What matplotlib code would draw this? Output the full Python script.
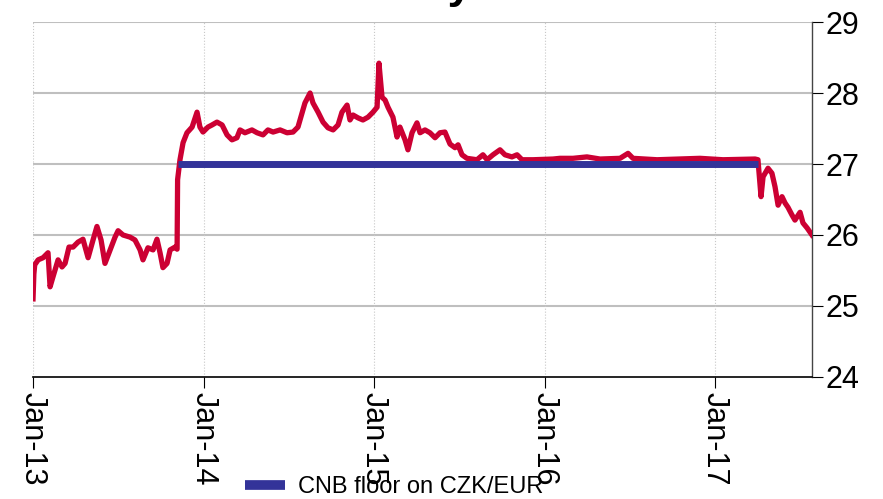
import matplotlib
matplotlib.use("Agg")
import matplotlib.pyplot as plt
from matplotlib.lines import Line2D

plt.rcParams['font.family'] = ['Liberation Sans', 'DejaVu Sans']

# CZK per EUR, decimal years
czk_t = [2013.000, 2013.005, 2013.010, 2013.030, 2013.059, 2013.088, 2013.100, 2013.117,
         2013.147, 2013.170, 2013.188, 2013.211, 2013.235, 2013.264, 2013.293, 2013.323,
         2013.352, 2013.375, 2013.399, 2013.422, 2013.452, 2013.481, 2013.499, 2013.528,
         2013.569, 2013.598, 2013.628, 2013.645, 2013.674, 2013.704, 2013.727, 2013.745,
         2013.762, 2013.786, 2013.804, 2013.833, 2013.845, 2013.848, 2013.862, 2013.880,
         2013.903, 2013.933, 2013.962, 2013.979, 2013.997, 2014.026, 2014.050, 2014.079,
         2014.109, 2014.138, 2014.167, 2014.196, 2014.214, 2014.243, 2014.284, 2014.314,
         2014.349, 2014.378, 2014.408, 2014.449, 2014.490, 2014.525, 2014.554, 2014.578,
         2014.595, 2014.625, 2014.642, 2014.672, 2014.701, 2014.730, 2014.760, 2014.789,
         2014.812, 2014.842, 2014.859, 2014.877, 2014.906, 2014.935, 2014.965, 2014.994,
         2015.018, 2015.029, 2015.047, 2015.065, 2015.082, 2015.111, 2015.135, 2015.152,
         2015.182, 2015.199, 2015.223, 2015.252, 2015.270, 2015.299, 2015.328, 2015.358,
         2015.387, 2015.416, 2015.446, 2015.475, 2015.493, 2015.516, 2015.545, 2015.604,
         2015.639, 2015.663, 2015.698, 2015.739, 2015.768, 2015.809, 2015.839, 2015.868,
         2015.933, 2016.050, 2016.091, 2016.167, 2016.249, 2016.326, 2016.443, 2016.490,
         2016.519, 2016.660, 2016.912, 2017.047, 2017.235, 2017.252, 2017.270, 2017.282,
         2017.311, 2017.334, 2017.352, 2017.370, 2017.393, 2017.411, 2017.428, 2017.452,
         2017.469, 2017.499, 2017.516, 2017.540, 2017.557, 2017.569]
czk_v = [25.10, 25.45, 25.58, 25.65, 25.68, 25.75, 25.27, 25.41,
         25.65, 25.55, 25.60, 25.83, 25.83, 25.90, 25.94, 25.68,
         25.93, 26.12, 25.93, 25.60, 25.79, 25.97, 26.06, 26.00,
         25.97, 25.93, 25.79, 25.65, 25.82, 25.79, 25.94, 25.75,
         25.54, 25.60, 25.79, 25.83, 25.80, 26.78, 27.06, 27.30,
         27.44, 27.52, 27.73, 27.52, 27.45, 27.52, 27.55, 27.59,
         27.55, 27.41, 27.34, 27.37, 27.48, 27.44, 27.48, 27.44,
         27.41, 27.48, 27.45, 27.48, 27.44, 27.45, 27.52, 27.72,
         27.86, 28.00, 27.86, 27.73, 27.59, 27.51, 27.48, 27.55,
         27.73, 27.83, 27.62, 27.69, 27.65, 27.62, 27.66, 27.73,
         27.80, 28.42, 27.94, 27.90, 27.80, 27.66, 27.38, 27.52,
         27.34, 27.20, 27.44, 27.58, 27.44, 27.48, 27.44, 27.37,
         27.44, 27.45, 27.28, 27.23, 27.27, 27.13, 27.08, 27.06,
         27.13, 27.06, 27.13, 27.20, 27.13, 27.10, 27.13, 27.06,
         27.06, 27.07, 27.08, 27.08, 27.10, 27.07, 27.08, 27.15,
         27.08, 27.06, 27.08, 27.06, 27.07, 27.06, 26.54, 26.82,
         26.94, 26.87, 26.68, 26.42, 26.54, 26.45, 26.39, 26.28,
         26.21, 26.32, 26.17, 26.10, 26.04, 26.00]

floor_t = [2013.848, 2017.255]
floor_v = [27.0, 27.0]

year_ticks = [2013, 2014, 2015, 2016, 2017]
year_labels = ['Jan-13', 'Jan-14', 'Jan-15', 'Jan-16', 'Jan-17']
y_ticks = [24, 25, 26, 27, 28, 29]

fig = plt.figure(figsize=(8.83, 4.99), dpi=100)
ax = fig.add_axes([0.0374, 0.2445, 0.8822, 0.7114])

ax.plot(czk_t, czk_v, color='#CC0033', lw=3.8, zorder=3, solid_joinstyle='round')
ax.plot(floor_t, floor_v, color='#333399', lw=5, zorder=4, solid_capstyle='butt')

ax.set_xlim(2013.0, 2017.569)
ax.set_ylim(24, 29)

# gridlines
for yv in y_ticks[1:]:
    ax.axhline(yv, color='#BFBFBF', lw=1.5, zorder=1)
for xv in year_ticks:
    ax.axvline(xv, color='#C8C8C8', lw=0.8, ls=':', zorder=1)

ax.set_xticks(year_ticks)
ax.set_xticklabels(year_labels, rotation=270, fontsize=22)
ax.set_yticks(y_ticks)
ax.yaxis.tick_right()
ax.tick_params(axis='y', labelsize=22, direction='out', length=8, pad=2, colors='black')
ax.tick_params(axis='x', direction='out', length=8, pad=3)

for s in ['top', 'left']:
    ax.spines[s].set_visible(False)
ax.spines['bottom'].set_color('black')
ax.spines['bottom'].set_linewidth(1.2)
ax.spines['right'].set_color('#444444')
ax.spines['right'].set_linewidth(1.0)

# title, sits almost entirely above the canvas
fig.text(472 / 883, 1.004, 'Daily', fontsize=32, fontweight='bold', ha='right', va='baseline')

handle = Line2D([0], [0], color='#333399', lw=7, solid_capstyle='butt')
fig.legend([handle], ['CNB floor on CZK/EUR'], loc='center left',
           bbox_to_anchor=(245 / 883, 0.024), frameon=False, fontsize=17,
           handlelength=1.7, handletextpad=0.55, borderpad=0, borderaxespad=0)

fig.savefig('out.png', dpi=100)
